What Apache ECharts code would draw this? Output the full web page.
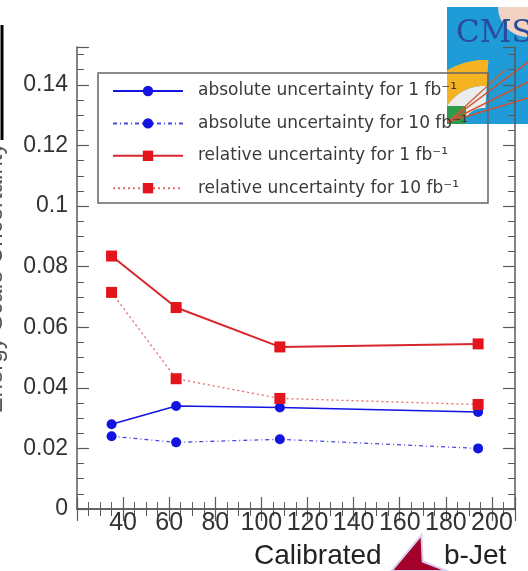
<!DOCTYPE html>
<html>
<head>
<meta charset="utf-8">
<script src="https://cdn.jsdelivr.net/npm/echarts@6/dist/echarts.min.js"></script>
<style>
html,body{margin:0;padding:0;background:#fff;}
#chart{width:528px;height:571px;}
</style>
</head>
<body>
<div id="chart"></div>
<script>
// ---- data ----
const ptValues   = [35, 63, 108, 194];                 // calibrated b-jet pT (x)
const absUnc1fb  = [0.028, 0.034, 0.0335, 0.032];
const absUnc10fb = [0.024, 0.022, 0.023, 0.020];
const relUnc1fb  = [0.0835, 0.0665, 0.0535, 0.0545];
const relUnc10fb = [0.0715, 0.043, 0.0365, 0.0345];
const seriesNames = [
  'absolute uncertainty for 1 fb\u207B\u00B9',
  'absolute uncertainty for 10 fb\u207B\u00B9',
  'relative uncertainty for 1 fb\u207B\u00B9',
  'relative uncertainty for 10 fb\u207B\u00B9'
];
const xTickLabels = [40, 60, 80, 100, 120, 140, 160, 180, 200];
const yTickLabels = [0, 0.02, 0.04, 0.06, 0.08, 0.1, 0.12, 0.14];
const xTitleLeft = 'Calibrated';
const xTitleRight = 'b-Jet';
const yTitle = 'Energy Scale Uncertainty';

const pairs = (xs, ys) => xs.map((x, i) => [x, ys[i]]);

const BLUE = '#1414e0';
const RED = '#e3141c';
const AXIS = '#5a5a5a';

function xFmt(v) {
  return xTickLabels.some(t => Math.abs(t - v) < 1e-6) ? String(v) : '';
}
function yFmt(v) {
  const t = yTickLabels.find(t => Math.abs(t - v) < 1e-9);
  return t === undefined ? '' : String(t);
}

// decorative logo ring outline, clamped into the logo box
const LOGO = {x0: 447, y0: 7, x1: 528, y1: 124};
function ringPoly(cx, cy, r0, r, a0, a1) {
  const pts = [];
  const n = 40;
  for (let i = 0; i <= n; i++) {
    const a = a0 + (a1 - a0) * i / n;
    pts.push([cx + r * Math.cos(a), cy + r * Math.sin(a)]);
  }
  for (let i = n; i >= 0; i--) {
    const a = a0 + (a1 - a0) * i / n;
    pts.push([cx + r0 * Math.cos(a), cy + r0 * Math.sin(a)]);
  }
  return pts.map(([x, y]) => [
    Math.min(Math.max(x, LOGO.x0), LOGO.x1),
    Math.min(Math.max(y, LOGO.y0), LOGO.y1)
  ]);
}

const chart = echarts.init(document.getElementById('chart'), null, {renderer: 'canvas'});

const axisCommon = {
  axisLine: {show: true, lineStyle: {color: AXIS, width: 1.5}},
  axisTick: {show: true, inside: true, length: 12, lineStyle: {color: AXIS, width: 1.2}},
  minorTick: {show: true, splitNumber: 4, length: 7, lineStyle: {color: AXIS, width: 1}},
  splitLine: {show: false},
  minorSplitLine: {show: false}
};

const option = {
  backgroundColor: '#ffffff',
  animation: false,
  grid: {left: 77, right: 13, top: 47, bottom: 62, outerBoundsMode: 'none'},
  xAxis: [
    Object.assign({
      type: 'value', position: 'bottom', min: 20, max: 210, interval: 20,
      axisLabel: {show: true, formatter: xFmt, fontFamily: 'Liberation Sans', fontSize: 25,
                  color: '#333', margin: 2, showMinLabel: false, showMaxLabel: false}
    }, axisCommon),
    Object.assign({
      type: 'value', position: 'top', min: 20, max: 210, interval: 20,
      axisLabel: {show: false}
    }, axisCommon)
  ],
  yAxis: [
    Object.assign({
      type: 'value', position: 'left', min: 0, max: 0.1525, interval: 0.02,
      name: yTitle, nameLocation: 'middle', nameGap: 70, nameRotate: 90,
      nameTextStyle: {fontFamily: 'Liberation Sans', fontSize: 24, color: '#555'},
      axisLabel: {show: true, formatter: yFmt, fontFamily: 'Liberation Sans', fontSize: 23,
                  color: '#333', margin: 9, showMaxLabel: false}
    }, axisCommon),
    Object.assign({
      type: 'value', position: 'right', min: 0, max: 0.1525, interval: 0.02,
      axisLabel: {show: false}
    }, axisCommon)
  ],
  legend: {
    orient: 'vertical', left: 112, top: 81, padding: 0,
    itemWidth: 70, itemHeight: 13, itemGap: 12.4,
    selectedMode: false,
    textStyle: {fontFamily: 'DejaVu Sans', fontSize: 17, color: '#3a3a3a', lineHeight: 20, padding: [0, 0, 0, 10]},
    data: seriesNames
  },
  series: [
    {
      name: seriesNames[0], type: 'line', data: pairs(ptValues, absUnc1fb),
      symbol: 'circle', symbolSize: 10, itemStyle: {color: BLUE},
      lineStyle: {color: BLUE, width: 1.6, type: 'solid'}
    },
    {
      name: seriesNames[1], type: 'line', data: pairs(ptValues, absUnc10fb),
      symbol: 'circle', symbolSize: 10, itemStyle: {color: BLUE},
      lineStyle: {color: '#4a4ae0', width: 1.3, type: [4, 3, 1, 3]}
    },
    {
      name: seriesNames[2], type: 'line', data: pairs(ptValues, relUnc1fb),
      symbol: 'rect', symbolSize: 11, itemStyle: {color: RED},
      lineStyle: {color: '#d8262c', width: 2, type: 'solid'}
    },
    {
      name: seriesNames[3], type: 'line', data: pairs(ptValues, relUnc10fb),
      symbol: 'rect', symbolSize: 11, itemStyle: {color: RED},
      lineStyle: {color: '#e86a6a', width: 1.3, type: [2, 3]}
    }
  ],
  graphic: [
    // legend frame
    {type: 'rect', z: 50, silent: true,
     shape: {x: 98, y: 73, width: 390, height: 130},
     style: {fill: 'transparent', stroke: '#666', lineWidth: 1.5}},
    // x-axis title
    {type: 'text', z: 50, silent: true, left: 254, top: 542,
     style: {text: xTitleLeft, font: '28px "Liberation Sans"', fill: '#222'}},
    {type: 'text', z: 50, silent: true, left: 444, top: 542,
     style: {text: xTitleRight, font: '28px "Liberation Sans"', fill: '#222'}},
    // red cursor arrow overlay
    {type: 'polygon', z: 60, silent: true,
     shape: {points: [[421.5, 535], [422.7, 561.5], [447, 571], [391.5, 571]]},
     style: {fill: '#a3002a', stroke: '#d6d0f2', lineWidth: 2}},
    // black bar at top-left
    {type: 'line', z: 50, silent: true,
     shape: {x1: 2, y1: 25, x2: 2, y2: 140},
     style: {stroke: '#000', lineWidth: 3}},
    // CMS logo overlay
    {type: 'group', z: 100, silent: true, children: [
      {type: 'rect', shape: {x: 447, y: 7, width: 81, height: 117}, style: {fill: '#1f9bd7'}},
      {type: 'sector', shape: {cx: 528, cy: 7, r0: 0, r: 30, startAngle: Math.PI / 2, endAngle: Math.PI},
       style: {fill: '#f2d2c2'}},
      {type: 'polygon', shape: {points: ringPoly(484, 130, 44, 70, Math.PI, Math.PI * 1.52)},
       style: {fill: '#f5b324'}},
      {type: 'polygon', shape: {points: ringPoly(484, 130, 22, 44, Math.PI, Math.PI * 1.52)},
       style: {fill: '#ececec'}},
      {type: 'rect', shape: {x: 447, y: 106, width: 19, height: 18}, style: {fill: '#2e9a4c'}},
      {type: 'line', shape: {x1: 448, y1: 122, x2: 528, y2: 62}, style: {stroke: '#d4512c', lineWidth: 1.5}},
      {type: 'line', shape: {x1: 448, y1: 122, x2: 528, y2: 82}, style: {stroke: '#d4512c', lineWidth: 1.5}},
      {type: 'line', shape: {x1: 448, y1: 122, x2: 528, y2: 98}, style: {stroke: '#d4512c', lineWidth: 1.5}},
      {type: 'line', shape: {x1: 448, y1: 122, x2: 505, y2: 70}, style: {stroke: '#c9603a', lineWidth: 1.2}},
      {type: 'text', left: 456, top: 18,
       style: {text: 'CMS', font: '31px "DejaVu Serif"', fill: '#2a4a9a'}}
    ]}
  ]
};

chart.setOption(option);
</script>
</body>
</html>
